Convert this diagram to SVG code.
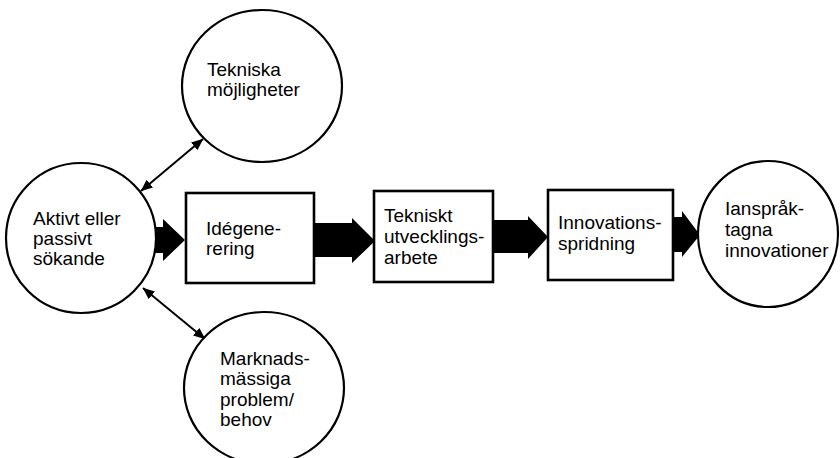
<svg xmlns="http://www.w3.org/2000/svg" width="840" height="458" viewBox="0 0 840 458">
<defs>
<style>
.node{fill:#fff;stroke:#000;stroke-width:2.2}
.box{fill:#fff;stroke:#000;stroke-width:2.6}
.t{font-family:"Liberation Sans",Arial,sans-serif;font-size:19px;fill:#000}
.fat{fill:#000;stroke:none}
.thin{stroke:#000;stroke-width:2;fill:none;marker-start:url(#ah);marker-end:url(#ah)}
</style>
<marker id="ah" viewBox="0 0 12 10" refX="11.5" refY="5" markerWidth="12" markerHeight="10" markerUnits="userSpaceOnUse" orient="auto-start-reverse">
<path d="M0,0 L12,5 L0,10 Z" fill="#000"/>
</marker>
</defs>
<rect width="840" height="458" fill="#fff"/>
<g id="connectors">
<polygon class="fat" points="148,227 163,227 163,219 185,240 163,261 163,253 148,253"/>
<polygon class="fat" points="314,223 352,223 352,218 375,241 352,263 352,257 314,257"/>
<polygon class="fat" points="493,220 528,220 528,216 548,237 528,259 528,253 493,253"/>
<polygon class="fat" points="673,217 682,217 682,211 700,235 682,257 682,252 673,252"/>
<line class="thin" x1="141" y1="191" x2="203" y2="139"/>
<line class="thin" x1="143" y1="288" x2="205" y2="339"/>
</g>
<g id="n-tekniska">
<ellipse class="node" cx="262" cy="86" rx="80" ry="76"/>
<text class="t" x="207" y="76">Tekniska</text>
<text class="t" x="207" y="96">möjligheter</text>
</g>
<g id="n-aktivt">
<ellipse class="node" cx="81" cy="238" rx="75" ry="75"/>
<text class="t" x="33" y="225">Aktivt eller</text>
<text class="t" x="33" y="245">passivt</text>
<text class="t" x="33" y="265">sökande</text>
</g>
<g id="n-marknad">
<ellipse class="node" cx="264" cy="388" rx="80" ry="76"/>
<text class="t" x="220" y="365">Marknads-</text>
<text class="t" x="220" y="385">mässiga</text>
<text class="t" x="220" y="406">problem/</text>
<text class="t" x="220" y="426">behov</text>
</g>
<g id="n-idegen">
<rect class="box" x="186" y="193" width="128" height="90"/>
<text class="t" x="206" y="235">Idégene-</text>
<text class="t" x="206" y="255">rering</text>
</g>
<g id="n-tekniskt">
<rect class="box" x="374" y="191" width="119" height="91"/>
<text class="t" x="384" y="222">Tekniskt</text>
<text class="t" x="384" y="243">utvecklings-</text>
<text class="t" x="384" y="264">arbete</text>
</g>
<g id="n-innov">
<rect class="box" x="548" y="190" width="125" height="90"/>
<text class="t" x="558" y="229">Innovations-</text>
<text class="t" x="558" y="250">spridning</text>
</g>
<g id="n-ansprak">
<ellipse class="node" cx="768" cy="234" rx="70" ry="73"/>
<text class="t" x="725" y="215">Ianspråk-</text>
<text class="t" x="725" y="236">tagna</text>
<text class="t" x="725" y="257">innovationer</text>
</g>
</svg>
